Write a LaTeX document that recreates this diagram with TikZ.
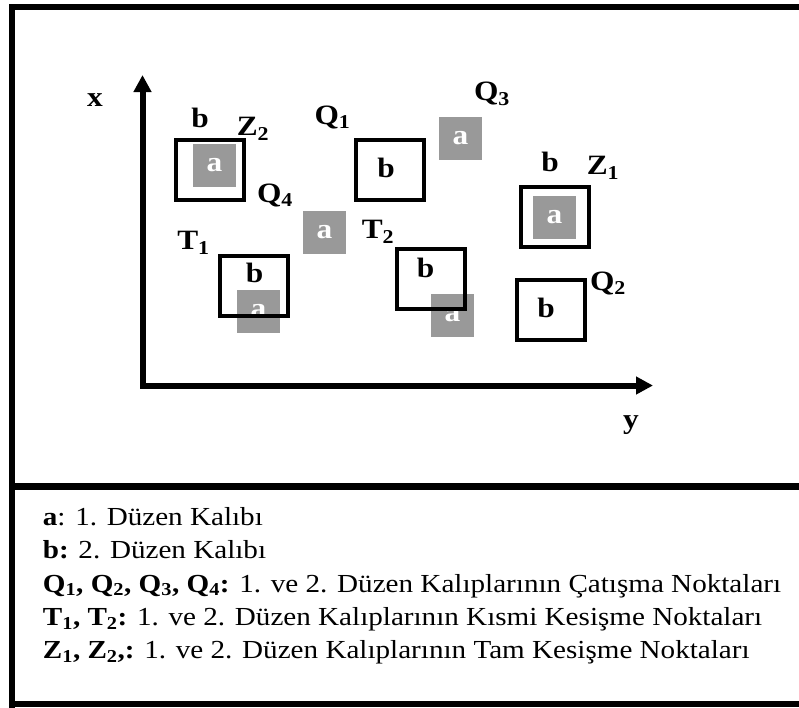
\documentclass[tikz,border=0pt]{standalone}
\usepackage{fontspec}
\setmainfont{Liberation Serif}[FakeStretch=1.12]
\usetikzlibrary{arrows.meta}
\tikzset{
  etiket/.style={font=\bfseries\fontsize{28}{28}\selectfont, inner sep=0pt},
  kalipA/.style={fill=black!40, minimum size=43pt, inner sep=0pt, text=white,
    font=\bfseries\fontsize{28}{28}\selectfont},
  kalipB/.style={draw, line width=4pt, minimum width=68pt, minimum height=60pt, inner sep=0pt},
  aciklama/.style={anchor=base west, inner sep=0pt, font=\fontsize{26}{30}\selectfont}
}
\begin{document}
\begin{tikzpicture}[x=1pt,y=-1pt]
\clip (0,0) rectangle (799,707);
%Cerceve
\draw[line width=6pt] (12,850) -- (12,7) -- (820,7);
\draw[line width=6pt] (12,704) -- (820,704);
\draw[line width=6.5pt] (12,486.5) -- (820,486.5);
%Eksenler
\coordinate (xuc) at (142.5,75);
\coordinate (yuc) at (653,385.5);
\draw[line width=6pt, {Triangle[length=17pt,width=17pt]}-{Triangle[length=17pt,width=17pt]}] (xuc) |- (yuc);
\node[etiket] (x) at (95,100) {x};
\node[etiket] (y) at (631,425) {y};
%1. duzen kaliplari
\node[kalipA] (az2) at (214.5,165) {a};
\node[kalipA] (aq4) at (324.5,232.5) {a};
\node[kalipA] (at1) at (258.5,311.5) {a};
\node[kalipA] (aq3) at (460.5,138.5) {a};
\node[kalipA] (at2) at (452.5,315) {a};
\node[kalipA] (az1) at (554.5,217.5) {a};
%2. duzen kaliplari
\node[kalipB] (bz2) at (209.5,170) {};
\node[kalipB] (bq1) at (389.5,170) {};
\node[kalipB] (bt1) at (254,286) {};
\node[kalipB] (bt2) at (431,279) {};
\node[kalipB] (bz1) at (555,216.5) {};
\node[kalipB] (bq2) at (551,310) {};
\node[etiket] (lbz2) at (200,118) {b};
\node[etiket] (lbq1) at (386,168) {b};
\node[etiket] (lbt1) at (254.5,272.5) {b};
\node[etiket] (lbt2) at (425.5,267.5) {b};
\node[etiket] (lbz1) at (550,162) {b};
\node[etiket] (lbq2) at (546,307.5) {b};
%Noktalar
\node[etiket] (z2) at (253,129) {Z\textsubscript{2}};
\node[etiket] (q1) at (332.5,117) {Q\textsubscript{1}};
\node[etiket] (q4) at (275,195) {Q\textsubscript{4}};
\node[etiket] (t1) at (193.5,243) {T\textsubscript{1}};
\node[etiket] (t2) at (378,232) {T\textsubscript{2}};
\node[etiket] (q3) at (492,94) {Q\textsubscript{3}};
\node[etiket] (z1) at (603,168) {Z\textsubscript{1}};
\node[etiket] (q2) at (608,283) {Q\textsubscript{2}};
%Aciklama
\node[aciklama] (ac1) at (42.7,525.7) {\textbf{a}: 1. Düzen Kalıbı};
\node[aciklama] (ac2) at (42.7,558.9) {\textbf{b:} 2. Düzen Kalıbı};
\node[aciklama] (ac3) at (42.7,592.1) {\textbf{Q\textsubscript{1}, Q\textsubscript{2}, Q\textsubscript{3}, Q\textsubscript{4}:} 1. ve 2. Düzen Kalıplarının Çatışma Noktaları};
\node[aciklama] (ac4) at (42.7,625.3) {\textbf{T\textsubscript{1}, T\textsubscript{2}:} 1. ve 2. Düzen Kalıplarının Kısmi Kesişme Noktaları};
\node[aciklama] (ac5) at (42.7,658.5) {\textbf{Z\textsubscript{1}, Z\textsubscript{2},:} 1. ve 2. Düzen Kalıplarının Tam Kesişme Noktaları};
\end{tikzpicture}
\end{document}
